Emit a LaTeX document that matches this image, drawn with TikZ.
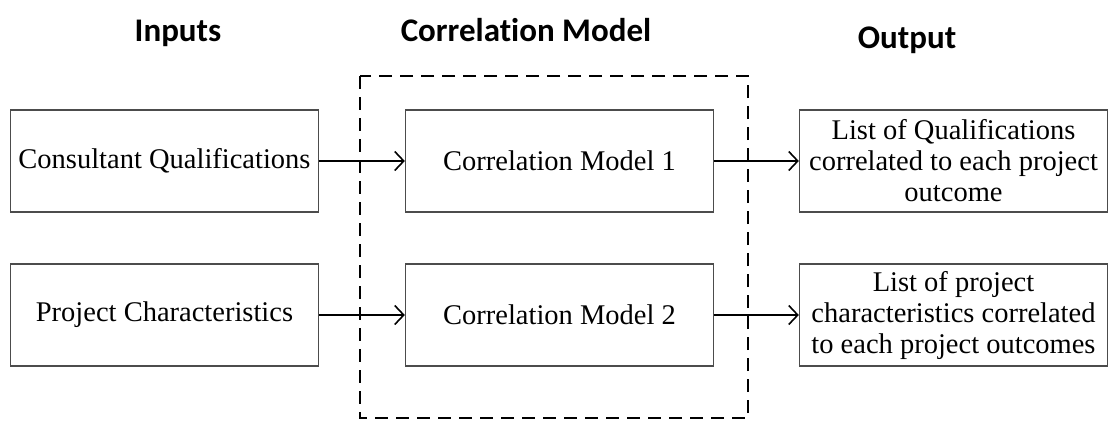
\documentclass[tikz,border=0pt]{standalone}
\usepackage{fontspec}
\setmainfont{Liberation Serif}
\newfontfamily\headfont[Ligatures=NoCommon]{Carlito}
\usetikzlibrary{arrows.meta}

\begin{document}
\begin{tikzpicture}[x=1pt,y=-1pt,
  box/.style={draw=black!70, line width=1.3pt, minimum width=308pt,
    minimum height=102pt, inner sep=0pt, align=center,
    font=\fontsize{28.5}{31}\selectfont},
  heading/.style={font=\headfont\bfseries\fontsize{33}{38}\selectfont, anchor=base},
  flow/.style={line width=1.6pt,
    -{Straight Barb[length=9pt,width=19pt,line width=1.6pt]}},
  modelframe/.style={draw, line width=2pt, dash pattern=on 13pt off 8pt}]
\useasboundingbox (0,0) rectangle (1110,421);

% column headings
\node[heading] (hin)  at (178,41) {Inputs};
\node[heading] (hmod) at (526,41) {Correlation Model};
\node[heading] (hout) at (907,48) {Output};

% dashed frame around the correlation models
\draw[modelframe] (360,76) rectangle (748,418);

% first row
\node[box] (in1)  at (164.5,161) {Consultant Qualifications};
\node[box] (mod1) at (559.5,161) {Correlation Model 1};
\node[box] (out1) at (953.5,161) {List of Qualifications\\correlated to each project\\outcome};

% second row
\node[box] (in2)  at (164.5,315) {Project Characteristics};
\node[box] (mod2) at (559.5,315) {Correlation Model 2};
\node[box] (out2) at (953.5,315) {List of project\\characteristics correlated\\to each project outcomes};

% connectors
\draw[flow] (in1) -- (mod1);
\draw[flow] (mod1) -- (out1);
\draw[flow] (in2) -- (mod2);
\draw[flow] (mod2) -- (out2);
\end{tikzpicture}
\end{document}
